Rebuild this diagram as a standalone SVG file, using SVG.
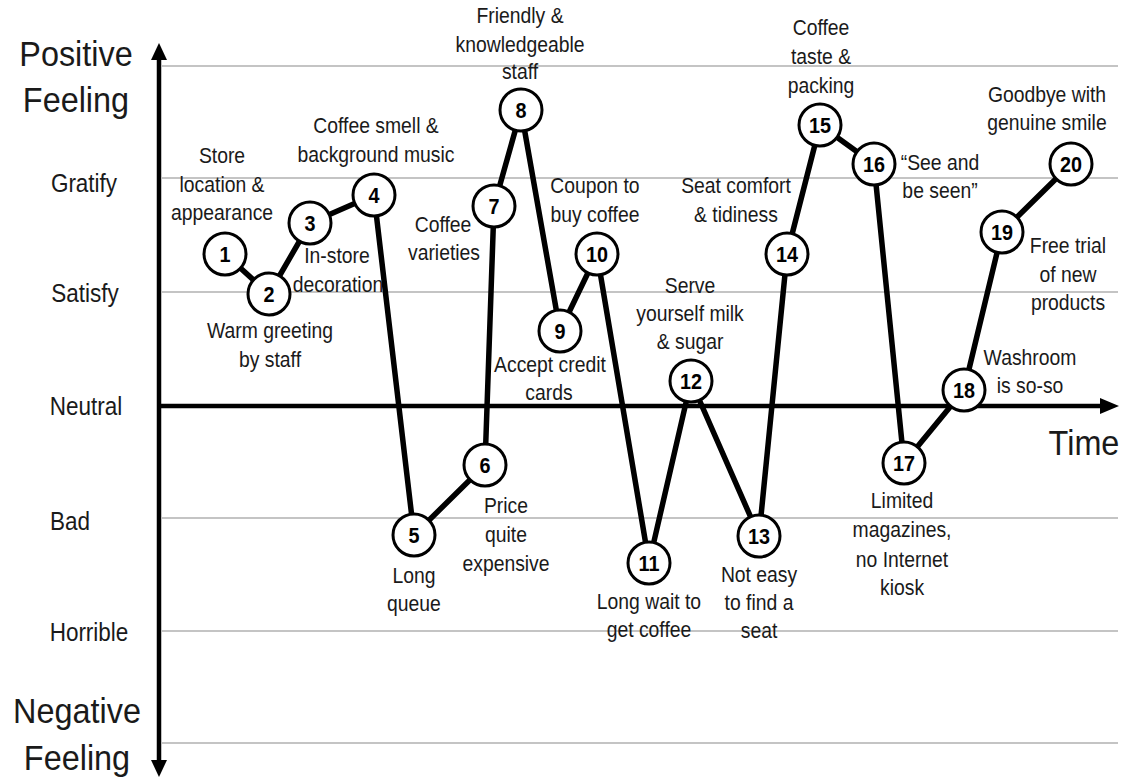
<svg xmlns="http://www.w3.org/2000/svg" width="1132" height="778" viewBox="0 0 1132 778">
<style>
text { font-family: "Liberation Sans", Arial, sans-serif; fill: #1a1a1a; text-anchor: middle; transform-box: fill-box; transform-origin: center; transform: scaleX(0.9); }
.big { font-size: 36px; }
.lvl { font-size: 25px; }
.lbl { font-size: 21.5px; }
.num { font-size: 22px; font-weight: bold; fill: #000; }
.grid { stroke: #c4c4c4; stroke-width: 2; }
.axis { stroke: #000; stroke-width: 4.5; fill: none; }
.con line { stroke: #000; stroke-width: 5.5; stroke-linecap: round; }
.node circle { fill: #fff; stroke: #000; stroke-width: 3; }
</style>
<rect width="1132" height="778" fill="#fff"/>
<g id="grid">
<line class="grid" x1="162" y1="66" x2="1118" y2="66"/>
<line class="grid" x1="162" y1="178" x2="1118" y2="178"/>
<line class="grid" x1="162" y1="292" x2="1118" y2="292"/>
<line class="grid" x1="162" y1="518" x2="1118" y2="518"/>
<line class="grid" x1="162" y1="631" x2="1118" y2="631"/>
<line class="grid" x1="162" y1="743" x2="1118" y2="743"/>
</g>
<g id="axes">
<line class="axis" x1="159" y1="56" x2="159" y2="764"/>
<polygon points="159,43 151,60 167,60" fill="#000"/>
<polygon points="159,777 151,760 167,760" fill="#000"/>
<line class="axis" x1="157" y1="406" x2="1104" y2="406"/>
<polygon points="1119,406 1100,398 1100,414" fill="#000"/>
</g>
<g id="axis-labels">
<text class="big" x="76" y="66">Positive</text>
<text class="big" x="76" y="112">Feeling</text>
<text class="big" x="77" y="723">Negative</text>
<text class="big" x="77" y="770">Feeling</text>
<text class="big" x="1084" y="455">Time</text>
<text class="lvl" x="84" y="192">Gratify</text>
<text class="lvl" x="85" y="302">Satisfy</text>
<text class="lvl" x="86" y="415">Neutral</text>
<text class="lvl" x="70" y="530">Bad</text>
<text class="lvl" x="89" y="641">Horrible</text>
</g>
<g id="connectors" class="con">
<line x1="225" y1="254" x2="269" y2="294"/>
<line x1="269" y1="294" x2="310" y2="223"/>
<line x1="310" y1="223" x2="374" y2="195"/>
<line x1="374" y1="195" x2="414" y2="535"/>
<line x1="414" y1="535" x2="485" y2="465"/>
<line x1="485" y1="465" x2="494" y2="206"/>
<line x1="494" y1="206" x2="521" y2="110"/>
<line x1="521" y1="110" x2="560" y2="331"/>
<line x1="560" y1="331" x2="597" y2="254"/>
<line x1="597" y1="254" x2="649" y2="563"/>
<line x1="649" y1="563" x2="691" y2="381"/>
<line x1="691" y1="381" x2="759" y2="536"/>
<line x1="759" y1="536" x2="787" y2="254"/>
<line x1="787" y1="254" x2="820" y2="125"/>
<line x1="820" y1="125" x2="874" y2="164"/>
<line x1="874" y1="164" x2="904" y2="463"/>
<line x1="904" y1="463" x2="964" y2="390"/>
<line x1="964" y1="390" x2="1002" y2="232"/>
<line x1="1002" y1="232" x2="1071" y2="164"/>
</g>
<g id="n1" class="node"><circle cx="225" cy="254" r="21"/><text class="num" x="225" y="262">1</text>
<text class="lbl" x="222" y="163">Store</text><text class="lbl" x="222" y="192">location &amp;</text><text class="lbl" x="222" y="220">appearance</text></g>
<g id="n2" class="node"><circle cx="269" cy="294" r="21"/><text class="num" x="269" y="302">2</text>
<text class="lbl" x="270" y="338">Warm greeting</text><text class="lbl" x="270" y="367">by staff</text></g>
<g id="n3" class="node"><circle cx="310" cy="223" r="21"/><text class="num" x="310" y="231">3</text>
<text class="lbl" x="337" y="263">In-store</text><text class="lbl" x="338" y="292">decoration</text></g>
<g id="n4" class="node"><circle cx="374" cy="195" r="21"/><text class="num" x="374" y="203">4</text>
<text class="lbl" x="376" y="133">Coffee smell &amp;</text><text class="lbl" x="376" y="162">background music</text></g>
<g id="n5" class="node"><circle cx="414" cy="535" r="21"/><text class="num" x="414" y="543">5</text>
<text class="lbl" x="414" y="583">Long</text><text class="lbl" x="414" y="611">queue</text></g>
<g id="n6" class="node"><circle cx="485" cy="465" r="21"/><text class="num" x="485" y="473">6</text>
<text class="lbl" x="506" y="513">Price</text><text class="lbl" x="506" y="542">quite</text><text class="lbl" x="506" y="571">expensive</text></g>
<g id="n7" class="node"><circle cx="494" cy="206" r="21"/><text class="num" x="494" y="214">7</text>
<text class="lbl" x="443" y="232">Coffee</text><text class="lbl" x="444" y="260">varieties</text></g>
<g id="n8" class="node"><circle cx="521" cy="110" r="21"/><text class="num" x="521" y="118">8</text>
<text class="lbl" x="520" y="23">Friendly &amp;</text><text class="lbl" x="520" y="52">knowledgeable</text><text class="lbl" x="520" y="79">staff</text></g>
<g id="n9" class="node"><circle cx="560" cy="331" r="21"/><text class="num" x="560" y="339">9</text>
<text class="lbl" x="550" y="372">Accept credit</text><text class="lbl" x="549" y="400">cards</text></g>
<g id="n10" class="node"><circle cx="597" cy="254" r="21"/><text class="num" x="597" y="262">10</text>
<text class="lbl" x="595" y="193">Coupon to</text><text class="lbl" x="595" y="222">buy coffee</text></g>
<g id="n11" class="node"><circle cx="649" cy="563" r="21"/><text class="num" x="649" y="571">11</text>
<text class="lbl" x="649" y="609">Long wait to</text><text class="lbl" x="649" y="637">get coffee</text></g>
<g id="n12" class="node"><circle cx="691" cy="381" r="21"/><text class="num" x="691" y="389">12</text>
<text class="lbl" x="690" y="293">Serve</text><text class="lbl" x="690" y="321">yourself milk</text><text class="lbl" x="690" y="349">&amp; sugar</text></g>
<g id="n13" class="node"><circle cx="759" cy="536" r="21"/><text class="num" x="759" y="544">13</text>
<text class="lbl" x="759" y="582">Not easy</text><text class="lbl" x="759" y="610">to find a</text><text class="lbl" x="759" y="638">seat</text></g>
<g id="n14" class="node"><circle cx="787" cy="254" r="21"/><text class="num" x="787" y="262">14</text>
<text class="lbl" x="736" y="193">Seat comfort</text><text class="lbl" x="736" y="222">&amp; tidiness</text></g>
<g id="n15" class="node"><circle cx="820" cy="125" r="21"/><text class="num" x="820" y="133">15</text>
<text class="lbl" x="821" y="35">Coffee</text><text class="lbl" x="821" y="64">taste &amp;</text><text class="lbl" x="821" y="93">packing</text></g>
<g id="n16" class="node"><circle cx="874" cy="164" r="21"/><text class="num" x="874" y="172">16</text>
<text class="lbl" x="940" y="170">“See and</text><text class="lbl" x="940" y="198">be seen”</text></g>
<g id="n17" class="node"><circle cx="904" cy="463" r="21"/><text class="num" x="904" y="471">17</text>
<text class="lbl" x="902" y="508">Limited</text><text class="lbl" x="902" y="537">magazines,</text><text class="lbl" x="902" y="567">no Internet</text><text class="lbl" x="902" y="595">kiosk</text></g>
<g id="n18" class="node"><circle cx="964" cy="390" r="21"/><text class="num" x="964" y="398">18</text>
<text class="lbl" x="1030" y="365">Washroom</text><text class="lbl" x="1030" y="393">is so-so</text></g>
<g id="n19" class="node"><circle cx="1002" cy="232" r="21"/><text class="num" x="1002" y="240">19</text>
<text class="lbl" x="1068" y="253">Free trial</text><text class="lbl" x="1068" y="282">of new</text><text class="lbl" x="1068" y="310">products</text></g>
<g id="n20" class="node"><circle cx="1071" cy="164" r="21"/><text class="num" x="1071" y="172">20</text>
<text class="lbl" x="1047" y="102">Goodbye with</text><text class="lbl" x="1047" y="130">genuine smile</text></g>
</svg>
